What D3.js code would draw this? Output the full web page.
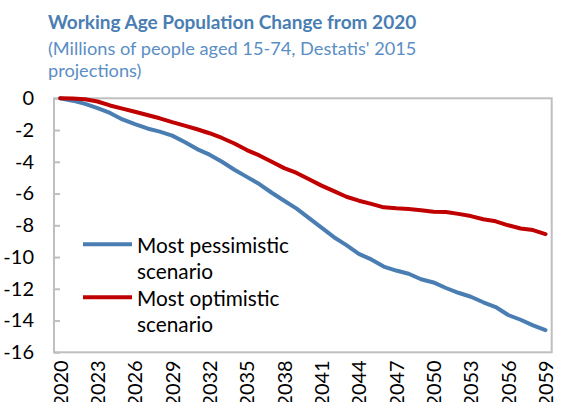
<!DOCTYPE html>
<html>
<head>
<meta charset="utf-8">
<script src="https://cdn.jsdelivr.net/npm/d3@7"></script>
<style>
  body { margin: 0; background: #fff; }
  svg { display: block; font-family: Lato, "Open Sans", sans-serif; }
</style>
</head>
<body>
<svg id="chart" width="570" height="402"></svg>
<script>
// years 2020..2059
var years = d3.range(2020, 2060);
var yearLabels = d3.range(2020, 2060, 3);
// million people change vs 2020
var pessimistic = [0, -0.15, -0.35, -0.62, -0.92, -1.33, -1.63, -1.9, -2.1, -2.35,
  -2.75, -3.2, -3.55, -4.0, -4.5, -4.95, -5.4, -5.95, -6.45, -6.95,
  -7.55, -8.15, -8.75, -9.25, -9.8, -10.15, -10.6, -10.85, -11.05, -11.4,
  -11.6, -11.95, -12.25, -12.5, -12.85, -13.15, -13.65, -13.95, -14.3, -14.6];
var optimistic = [0, -0.02, -0.06, -0.2, -0.45, -0.65, -0.85, -1.05, -1.26, -1.5,
  -1.72, -1.95, -2.2, -2.5, -2.85, -3.26, -3.6, -4.0, -4.4, -4.7,
  -5.1, -5.5, -5.85, -6.2, -6.45, -6.65, -6.87, -6.93, -6.97, -7.05,
  -7.15, -7.16, -7.28, -7.42, -7.62, -7.75, -8.0, -8.2, -8.3, -8.55];
var yTicks = d3.range(-16, 1, 2);
var seriesNames = ["Most pessimistic|scenario", "Most optimistic|scenario"];
var seriesColors = ["#4a7eb3", "#c00000"];

function drawChart() {
  var svg = d3.select("#chart");
  var pLeft = 54, pRight = 551.7, pTop = 98.3, pBottom = 352.3;

  var x = d3.scalePoint().domain(years).range([pLeft, pRight]).padding(0.5);
  var y = d3.scaleLinear().domain([-16, 0]).range([pBottom, pTop]);

  // title
  svg.append("text").attr("x", 48).attr("y", 29)
    .attr("font-size", 19).attr("font-weight", "bold").attr("fill", "#4a7eb3")
    .text("Working Age Population Change from 2020");
  svg.append("text").attr("x", 48).attr("y", 55)
    .attr("font-size", 18.2).attr("fill", "#5b8ec4")
    .text("(Millions of people aged 15-74, Destatis' 2015");
  svg.append("text").attr("x", 48).attr("y", 77)
    .attr("font-size", 18.2).attr("fill", "#5b8ec4")
    .text("projections)");

  // plot border
  svg.append("rect")
    .attr("x", pLeft).attr("y", pTop)
    .attr("width", pRight - pLeft).attr("height", pBottom - pTop)
    .attr("fill", "none").attr("stroke", "#bfbfbf").attr("stroke-width", 2);

  // y axis
  var yAxis = d3.axisLeft(y).tickValues(yTicks).tickSize(-6).tickPadding(20)
    .tickFormat(function (d) { return d === 0 ? "0" : "-" + Math.abs(d); });
  var gy = svg.append("g").attr("transform", "translate(" + pLeft + ",0)").call(yAxis);
  gy.select(".domain").remove();
  gy.selectAll(".tick line").attr("stroke", "#bfbfbf").attr("stroke-width", 2);
  gy.selectAll(".tick text").attr("font-size", 20).attr("fill", "#000")
    .attr("font-family", "Lato, sans-serif");

  // x axis
  var xAxis = d3.axisBottom(x).tickValues(yearLabels).tickSize(0);
  var gx = svg.append("g").attr("transform", "translate(0," + pBottom + ")").call(xAxis);
  gx.select(".domain").remove();
  gx.selectAll(".tick text")
    .attr("font-size", 20).attr("fill", "#000").attr("font-family", "Lato, sans-serif")
    .attr("text-anchor", "end")
    .attr("transform", "rotate(-90)")
    .attr("x", -8).attr("y", 0).attr("dy", "0.35em");

  // lines
  var line = d3.line()
    .x(function (d, i) { return x(years[i]); })
    .y(function (d) { return y(d); });

  [pessimistic, optimistic].forEach(function (s, i) {
    svg.append("path").datum(s)
      .attr("d", line)
      .attr("fill", "none")
      .attr("stroke", seriesColors[i])
      .attr("stroke-width", 4)
      .attr("stroke-linejoin", "round")
      .attr("stroke-linecap", "round");
  });

  // legend
  var legendY = [244.3, 297.3];
  seriesNames.forEach(function (n, i) {
    var g = svg.append("g");
    g.append("line")
      .attr("x1", 83).attr("x2", 132)
      .attr("y1", legendY[i]).attr("y2", legendY[i])
      .attr("stroke", seriesColors[i]).attr("stroke-width", 4);
    var t = g.append("text").attr("x", 137).attr("y", legendY[i] + 9)
      .attr("font-size", 20.8).attr("fill", "#000");
    n.split("|").forEach(function (part, j) {
      t.append("tspan").attr("x", 137).attr("dy", j === 0 ? 0 : 26).text(part);
    });
  });
}
drawChart();
</script>
</body>
</html>
